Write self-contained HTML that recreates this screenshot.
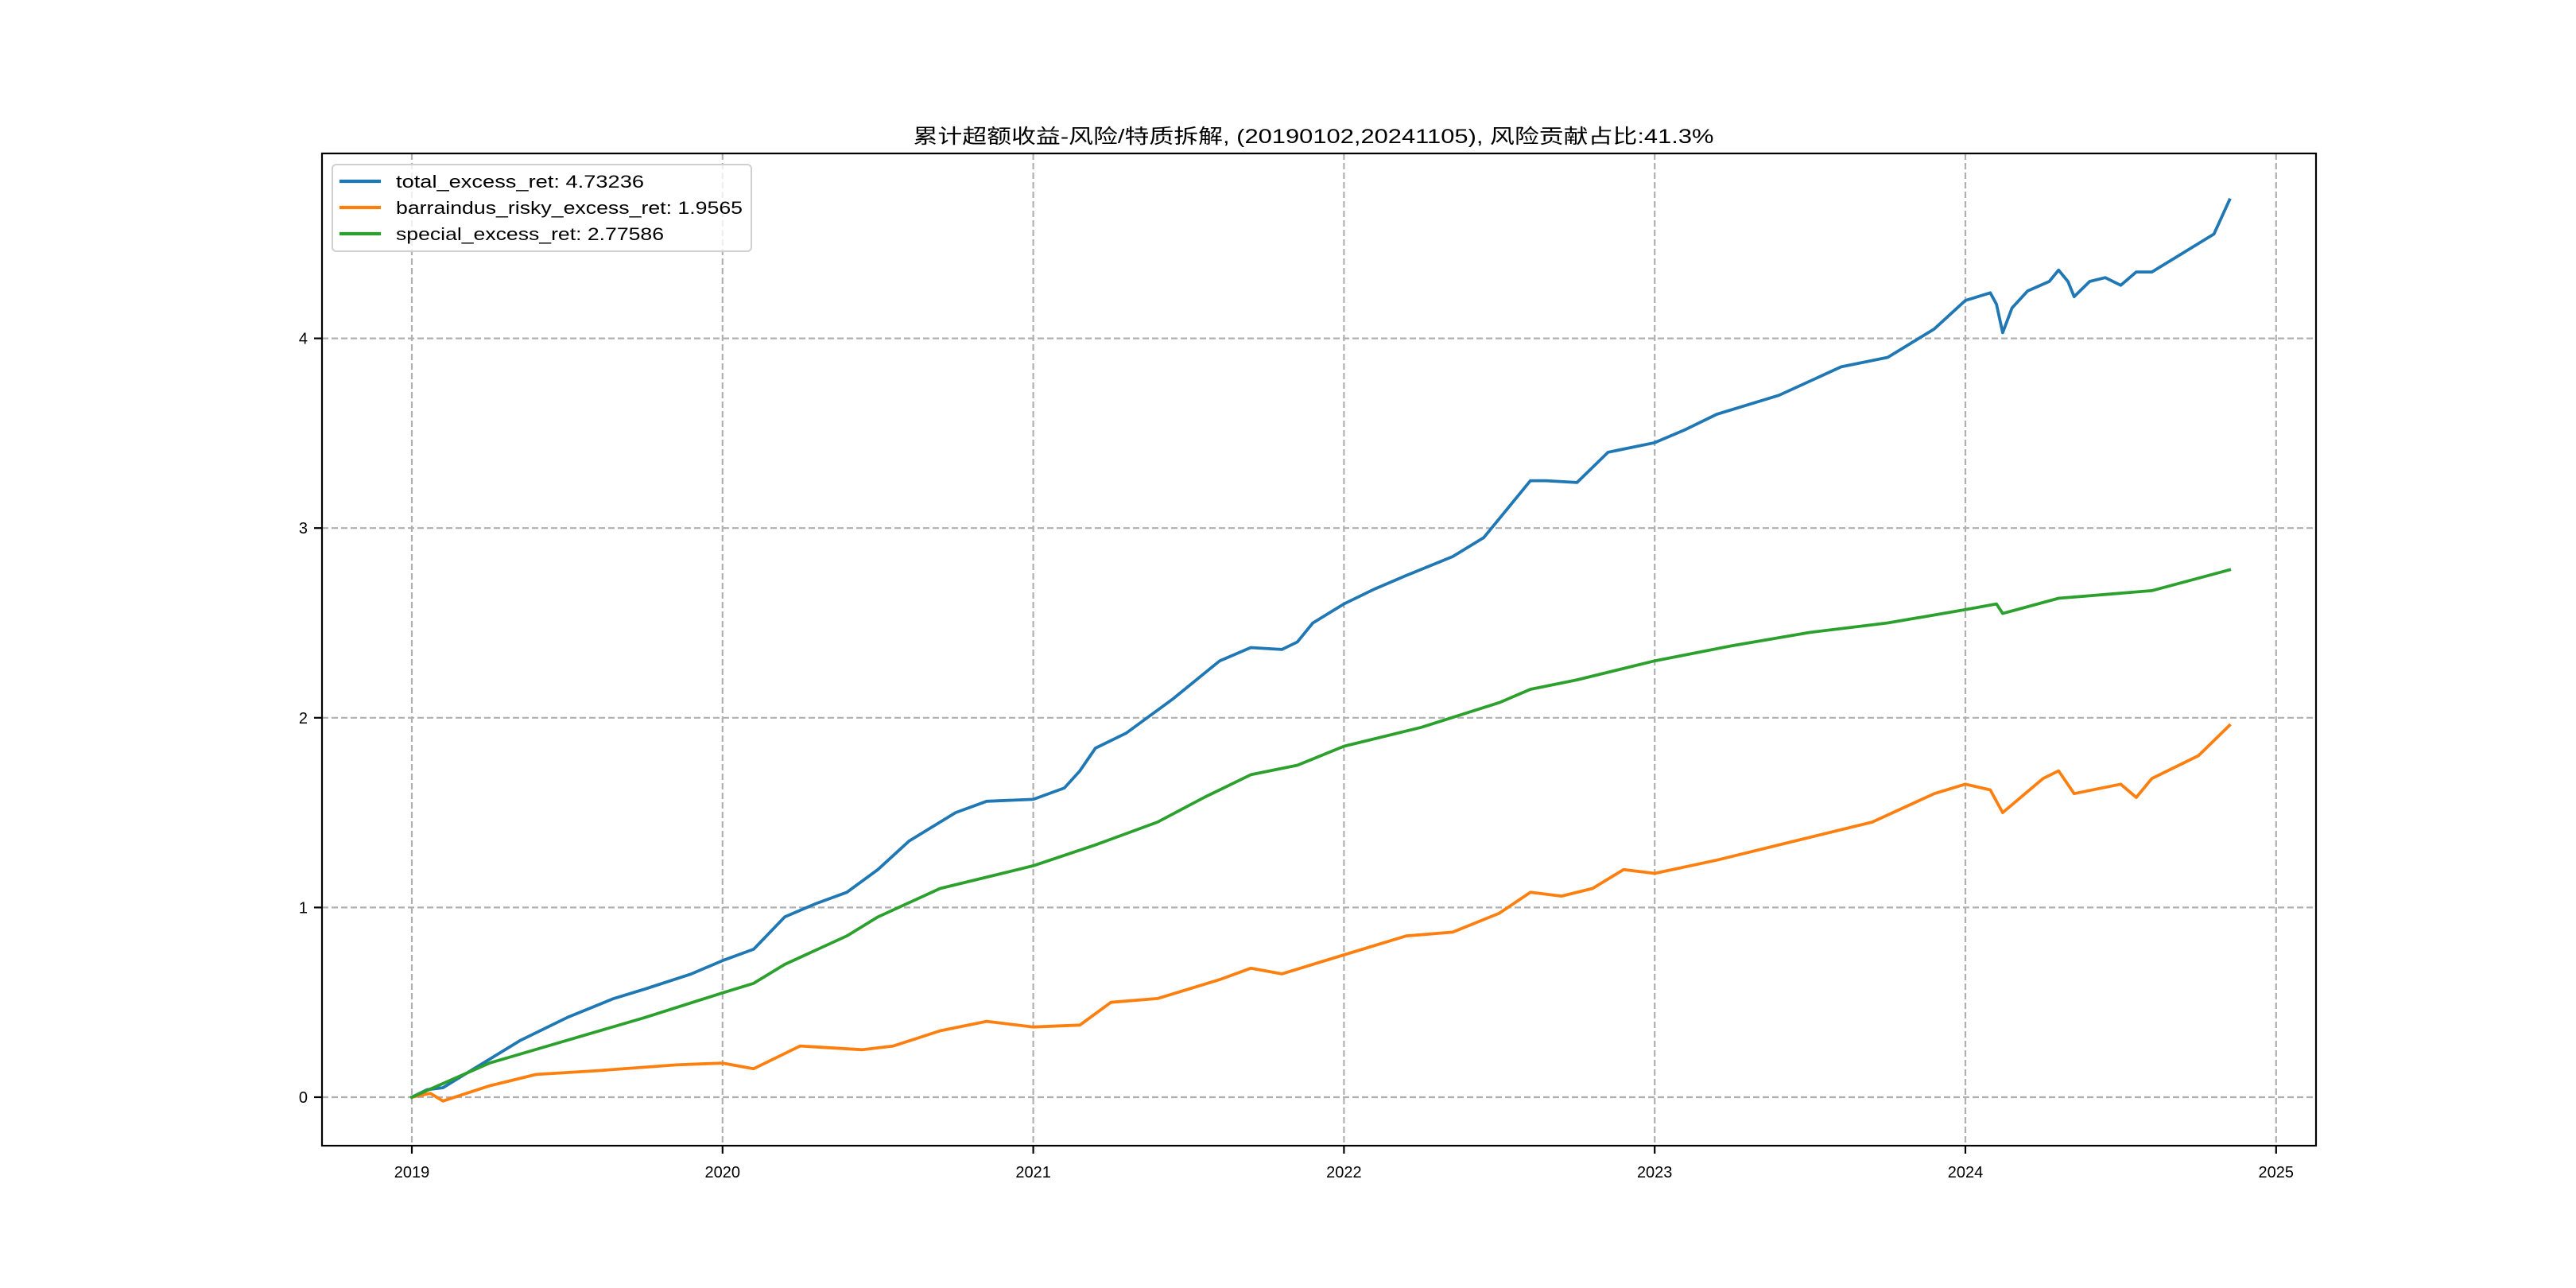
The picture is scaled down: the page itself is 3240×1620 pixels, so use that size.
<!DOCTYPE html>
<html><head><meta charset="utf-8"><style>
html,body{margin:0;padding:0;background:#fff;}
svg{display:block;}
text{font-family:"Liberation Sans","Noto Sans CJK SC",sans-serif;fill:#000;}
</style></head><body>
<svg id="chart" width="3240" height="1620" viewBox="0 0 3240 1620" xmlns="http://www.w3.org/2000/svg">
<rect x="0" y="0" width="3240" height="1620" fill="#fff"/>
<text x="1652" y="180" font-size="25" text-anchor="middle" textLength="1007" lengthAdjust="spacingAndGlyphs">累计超额收益-风险/特质拆解, (20190102,20241105), 风险贡献占比:41.3%</text>
<g id="grid"></g>
<g id="series"></g>
<rect x="405" y="193" width="2508" height="1248" fill="none" stroke="#000" stroke-width="2.2"/>
<g id="ticks"></g>
<g>
<rect x="418" y="207" width="527" height="109" rx="5" fill="#fff" fill-opacity="0.8" stroke="#d0d0d0" stroke-width="2"/>
<g>
<line x1="427" y1="228" x2="479" y2="228" stroke="#1f77b4" stroke-width="4.2"/>
<text x="498" y="236" font-size="22" textLength="312" lengthAdjust="spacingAndGlyphs">total_excess_ret: 4.73236</text></g>
<g>
<line x1="427" y1="261" x2="479" y2="261" stroke="#ff7f0e" stroke-width="4.2"/>
<text x="498" y="269" font-size="22" textLength="436" lengthAdjust="spacingAndGlyphs">barraindus_risky_excess_ret: 1.9565</text></g>
<g>
<line x1="427" y1="294" x2="479" y2="294" stroke="#2ca02c" stroke-width="4.2"/>
<text x="498" y="302" font-size="22" textLength="337" lengthAdjust="spacingAndGlyphs">special_excess_ret: 2.77586</text></g>
</g>
</svg>
<script>
const xTicks = [2019, 2020, 2021, 2022, 2023, 2024, 2025];
const yTicks = [0, 1, 2, 3, 4];
const totalX = [2019.0,2019.05,2019.1,2019.15,2019.25,2019.35,2019.5,2019.65,2019.75,2019.9,2020.0,2020.1,2020.2,2020.3,2020.4,2020.5,2020.6,2020.7,2020.75,2020.85,2021.0,2021.1,2021.15,2021.2,2021.3,2021.45,2021.6,2021.7,2021.8,2021.85,2021.9,2022.0,2022.1,2022.2,2022.35,2022.45,2022.5,2022.6,2022.65,2022.75,2022.85,2023.0,2023.1,2023.2,2023.4,2023.6,2023.75,2023.9,2024.0,2024.08,2024.1,2024.12,2024.15,2024.2,2024.27,2024.3,2024.33,2024.35,2024.4,2024.45,2024.5,2024.55,2024.6,2024.7,2024.8,2024.85];
const totalY = [0,0.04,0.05,0.1,0.2,0.3,0.42,0.52,0.57,0.65,0.72,0.78,0.95,1.02,1.08,1.2,1.35,1.45,1.5,1.56,1.57,1.63,1.72,1.84,1.92,2.1,2.3,2.37,2.36,2.4,2.5,2.6,2.68,2.75,2.85,2.95,3.05,3.25,3.25,3.24,3.4,3.45,3.52,3.6,3.7,3.85,3.9,4.05,4.2,4.24,4.18,4.03,4.16,4.25,4.3,4.36,4.3,4.22,4.3,4.32,4.28,4.35,4.35,4.45,4.55,4.73];
const riskyX = [2019.0,2019.06,2019.1,2019.25,2019.4,2019.6,2019.85,2020.0,2020.1,2020.25,2020.45,2020.55,2020.7,2020.85,2021.0,2021.15,2021.25,2021.4,2021.6,2021.7,2021.8,2022.0,2022.2,2022.35,2022.5,2022.6,2022.7,2022.8,2022.9,2023.0,2023.2,2023.45,2023.7,2023.9,2024.0,2024.08,2024.12,2024.25,2024.3,2024.35,2024.5,2024.55,2024.6,2024.75,2024.85];
const riskyY = [0,0.02,-0.02,0.06,0.12,0.14,0.17,0.18,0.15,0.27,0.25,0.27,0.35,0.4,0.37,0.38,0.5,0.52,0.62,0.68,0.65,0.75,0.85,0.87,0.97,1.08,1.06,1.1,1.2,1.18,1.25,1.35,1.45,1.6,1.65,1.62,1.5,1.68,1.72,1.6,1.65,1.58,1.68,1.8,1.96];
const specialX = [2019.0,2019.25,2019.5,2019.75,2020.0,2020.1,2020.2,2020.4,2020.5,2020.7,2020.9,2021.0,2021.2,2021.4,2021.55,2021.7,2021.85,2022.0,2022.25,2022.5,2022.6,2022.75,2023.0,2023.25,2023.5,2023.75,2024.0,2024.1,2024.12,2024.3,2024.6,2024.85];
const specialY = [0,0.18,0.3,0.42,0.55,0.6,0.7,0.85,0.95,1.1,1.18,1.22,1.33,1.45,1.58,1.7,1.75,1.85,1.95,2.08,2.15,2.2,2.3,2.38,2.45,2.5,2.57,2.6,2.55,2.63,2.67,2.78];

const NS = "http://www.w3.org/2000/svg";
const L = 405, R = 2913, T = 193, B = 1441;
function xs(v){ return 518 + (v - 2019) * 390.8; }
function ys(v){ return 1380 - v * 238.6; }
function mk(tag, attrs, parent){
  const e = document.createElementNS(NS, tag);
  for (const k in attrs) e.setAttribute(k, attrs[k]);
  parent.appendChild(e); return e;
}
const grid = document.getElementById('grid');
const ticks = document.getElementById('ticks');
xTicks.forEach(t => {
  const x = xs(t);
  const g = mk('line', {x1:x, x2:x, y1:T, y2:B, stroke:'#b0b0b0', 'stroke-width':2.2, 'stroke-dasharray':'8,4'}, grid);
  
  
  const tk = mk('line', {x1:x, x2:x, y1:B, y2:B+10, stroke:'#000', 'stroke-width':2.2}, ticks);
  
  
  const lb = mk('text', {x:x, y:B+40, 'font-size':20, 'text-anchor':'middle'}, ticks);
  lb.textContent = t;
  
  
});
yTicks.forEach(t => {
  const y = ys(t);
  const g = mk('line', {x1:L, x2:R, y1:y, y2:y, stroke:'#b0b0b0', 'stroke-width':2.2, 'stroke-dasharray':'8,4'}, grid);
  
  
  const tk = mk('line', {x1:L-10, x2:L, y1:y, y2:y, stroke:'#000', 'stroke-width':2.2}, ticks);
  
  
  const lb = mk('text', {x:L-18, y:y+7, 'font-size':20, 'text-anchor':'end'}, ticks);
  lb.textContent = t;
  
  
});
const series = document.getElementById('series');
function drawLine(xv, yv, color, name){
  const d = xv.map((v,i) => (i ? 'L' : 'M') + xs(v).toFixed(1) + ',' + ys(yv[i]).toFixed(1)).join(' ');
  const p = mk('path', {d:d, fill:'none', stroke:color, 'stroke-width':3.8, 'stroke-linejoin':'round', 'stroke-linecap':'square'}, series);
  
  
}
drawLine(totalX, totalY, '#1f77b4', 'total-excess-ret-line');
drawLine(riskyX, riskyY, '#ff7f0e', 'risky-excess-ret-line');
drawLine(specialX, specialY, '#2ca02c', 'special-excess-ret-line');
</script>
</body></html>
